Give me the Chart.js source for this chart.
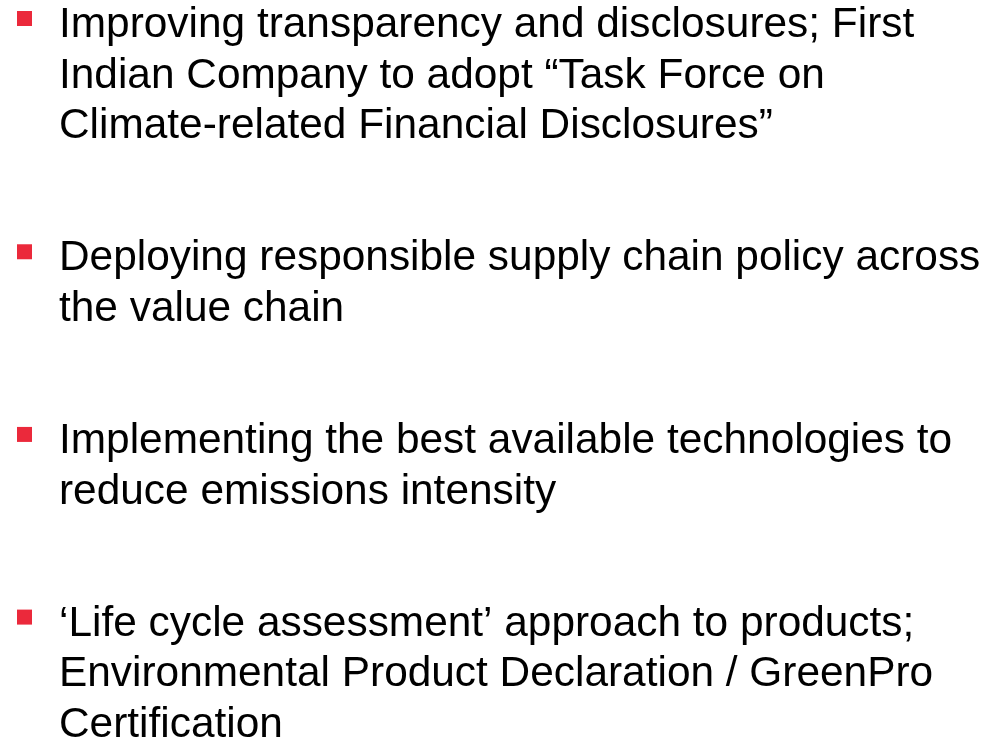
<!DOCTYPE html>
<html>
<head>
<meta charset="utf-8">
<script src="https://cdn.jsdelivr.net/npm/chart.js@4/dist/chart.umd.min.js"></script>
<style>
  html, body { margin: 0; padding: 0; background: #ffffff; }
  #wrap { width: 989px; height: 742px; position: relative; }
</style>
</head>
<body>
<div id="wrap"><canvas id="c" width="989" height="742"></canvas></div>
<script>
// Bullet items (categories), as wrapped lines
const item1 = ["Improving transparency and disclosures; First", "Indian Company to adopt \u201CTask Force on", "Climate-related Financial Disclosures\u201D"];
const item2 = ["Deploying responsible supply chain policy across", "the value chain"];
const item3 = ["Implementing the best available technologies to", "reduce emissions intensity"];
const item4 = ["\u2018Life cycle assessment\u2019 approach to products;", "Environmental Product Declaration / GreenPro", "Certification"];
const items = [item1, item2, item3, item4];
// Indent level of each bullet
const levels = [0, 0, 0, 0];

// Layout (in line units)
const LINE_PX = 50.6;
const GAP_LINES = 1.61;
const BULLET_OFFSET = 18.5 / LINE_PX;

const starts = [];
let acc = 0;
items.forEach((lines, i) => { starts.push(acc); acc += lines.length + GAP_LINES; });

const bulletData = items.map((lines, i) => ({ x: levels[i], y: starts[i] - BULLET_OFFSET }));

const INDENT_PX = 34.5;
const xMin = -24.5 / INDENT_PX;
const yMin = -37 / LINE_PX;

const textPlugin = {
  id: 'bulletText',
  afterDatasetsDraw(chart) {
    const ctx = chart.ctx;
    const xs = chart.scales.x, ys = chart.scales.y;
    ctx.save();
    ctx.fillStyle = '#000000';
    ctx.font = '42.4px "Liberation Sans", Arial, sans-serif';
    ctx.textBaseline = 'alphabetic';
    ctx.textAlign = 'left';
    items.forEach((lines, i) => {
      lines.forEach((t, j) => {
        ctx.fillText(t, xs.getPixelForValue(levels[i] + 1), ys.getPixelForValue(starts[i] + j));
      });
    });
    ctx.restore();
  }
};

new Chart(document.getElementById('c'), {
  type: 'scatter',
  data: {
    datasets: [{
      data: bulletData,
      pointStyle: 'rect',
      pointRadius: 15 / Math.SQRT2,
      pointHoverRadius: 15 / Math.SQRT2,
      backgroundColor: '#EB293B',
      borderWidth: 0
    }]
  },
  options: {
    responsive: false,
    animation: false,
    devicePixelRatio: 1,
    layout: { padding: 0, autoPadding: false },
    plugins: { legend: { display: false }, tooltip: { enabled: false } },
    scales: {
      x: { type: 'linear', display: false, min: xMin, max: xMin + 989 / INDENT_PX },
      y: { type: 'linear', display: false, reverse: true, min: yMin, max: yMin + 742 / LINE_PX }
    }
  },
  plugins: [textPlugin]
});
</script>
</body>
</html>
